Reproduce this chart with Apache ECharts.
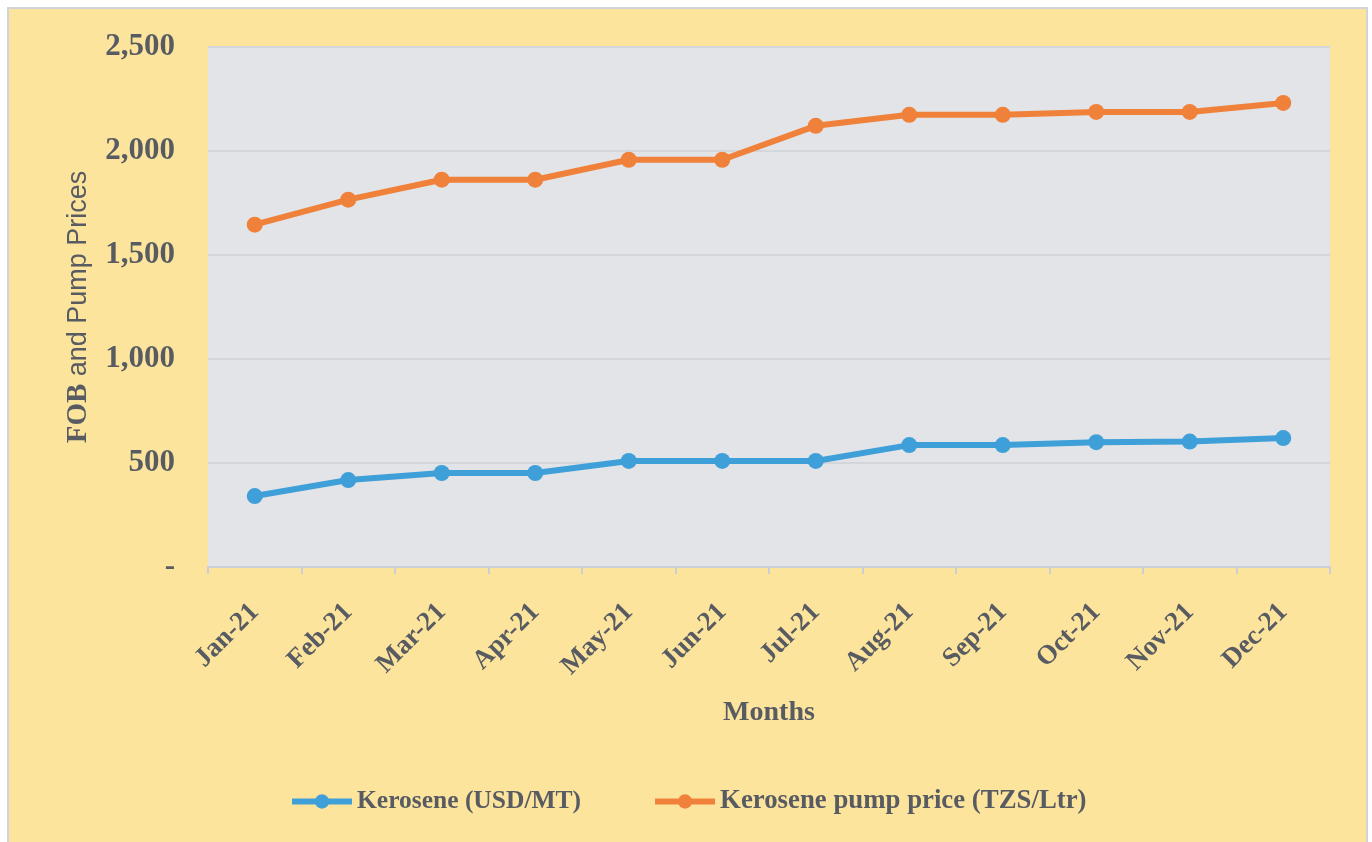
<!DOCTYPE html>
<html>
<head>
<meta charset="utf-8">
<script src="https://cdn.jsdelivr.net/npm/echarts@6/dist/echarts.min.js"></script>
<style>
  html, body { margin: 0; padding: 0; background: #fff; }
  #chart { width: 1372px; height: 842px; }
</style>
</head>
<body>
<div id="chart"></div>
<script>
// data
var months = ['Jan-21','Feb-21','Mar-21','Apr-21','May-21','Jun-21','Jul-21','Aug-21','Sep-21','Oct-21','Nov-21','Dec-21'];
var keroseneFob = [341, 418, 452, 452, 510, 510, 510, 586, 586, 600, 603, 620];
var kerosenePump = [1646, 1766, 1862, 1862, 1958, 1958, 2121, 2174, 2174, 2188, 2188, 2231];
var seriesNames = ['Kerosene (USD/MT)', 'Kerosene pump price (TZS/Ltr)'];

var serif = '"Liberation Serif", "Times New Roman", serif';
var textColor = '#585c62';

var chart = echarts.init(document.getElementById('chart'));
chart.setOption({
    backgroundColor: '#ffffff',
    animation: false,
    color: ['#3f9fd8', '#f0813a'],
    graphic: [{
        type: 'rect',
        z: -10,
        silent: true,
        shape: { x: 8, y: 8, width: 1359, height: 840 },
        style: { fill: '#fde49d', stroke: '#cdd5da', lineWidth: 2 }
    }],
    grid: {
        left: 208,
        right: 42,
        top: 47,
        bottom: 275,
        show: true,
        backgroundColor: '#e2e4e7',
        borderWidth: 0
    },
    legend: {
        data: [
            { name: seriesNames[0] },
            { name: seriesNames[1], textStyle: { fontSize: 26.8 } }
        ],
        left: 289,
        top: 788,
        padding: 0,
        itemWidth: 60,
        itemHeight: 18,
        itemGap: 71,
        lineStyle: { width: 6 },
        textStyle: { fontFamily: serif, fontWeight: 'bold', fontSize: 25.5, color: textColor }
    },
    xAxis: {
        type: 'category',
        data: months,
        name: 'Months',
        nameLocation: 'middle',
        nameGap: 132,
        nameTextStyle: { fontFamily: serif, fontWeight: 'bold', fontSize: 28, color: textColor },
        axisLine: { lineStyle: { color: '#c9cfd5', width: 2 } },
        axisTick: { show: true, length: 7, lineStyle: { color: '#c9cfd5', width: 2 } },
        axisLabel: {
            rotate: 45,
            margin: 41,
            interval: 0,
            fontFamily: serif,
            fontWeight: 'bold',
            fontSize: 27,
            color: textColor
        }
    },
    yAxis: {
        type: 'value',
        min: 0,
        max: 2500,
        interval: 500,
        name: '{b|FOB }{r|and Pump Prices}',
        nameLocation: 'middle',
        nameGap: 115,
        nameTextStyle: {
            color: textColor,
            rich: {
                b: { fontFamily: serif, fontWeight: 'bold', fontSize: 29, color: textColor },
                r: { fontFamily: '"Liberation Sans", Arial, sans-serif', fontSize: 27, color: textColor }
            }
        },
        axisLine: { show: false },
        axisTick: { show: false },
        splitLine: { lineStyle: { color: '#d3d7db', width: 2 } },
        axisLabel: {
            margin: 33,
            fontFamily: serif,
            fontWeight: 'bold',
            fontSize: 31,
            color: textColor,
            formatter: function (v) {
                if (v === 0) return '-';
                return v.toLocaleString('en-US');
            }
        }
    },
    series: [
        {
            name: seriesNames[0],
            type: 'line',
            data: keroseneFob,
            symbol: 'circle',
            symbolSize: 16,
            lineStyle: { width: 6 }
        },
        {
            name: seriesNames[1],
            type: 'line',
            data: kerosenePump,
            symbol: 'circle',
            symbolSize: 16,
            lineStyle: { width: 6 }
        }
    ]
});
</script>
</body>
</html>
